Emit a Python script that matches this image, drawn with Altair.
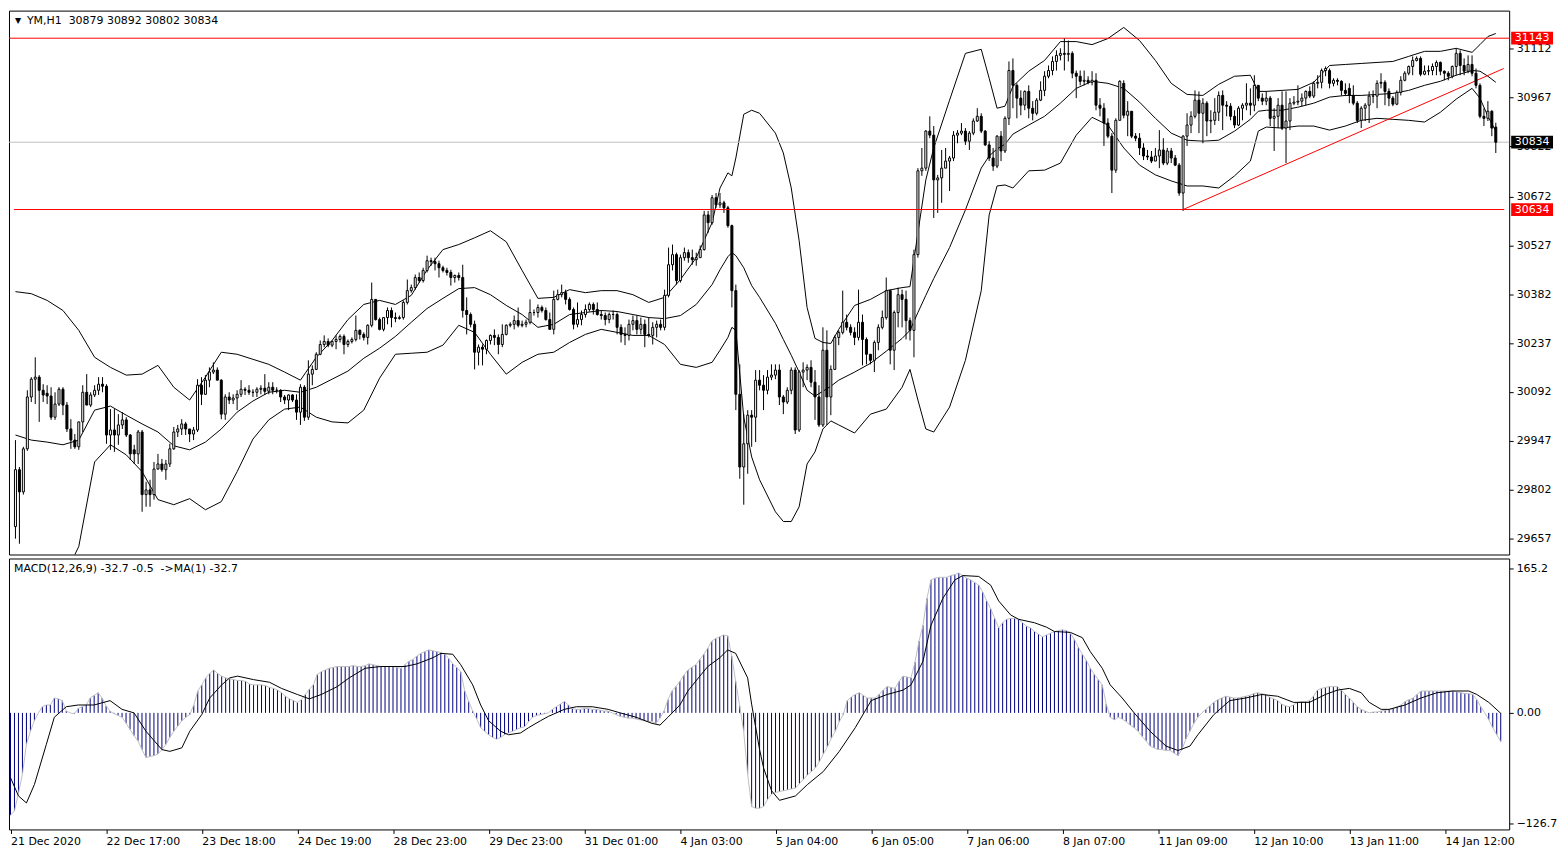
import altair as alt
import pandas as pd

# ---------------- price data (YM, H1) ----------------
OPEN = [
29692, 29861, 29795, 29923, 30077, 30130, 30136, 30097, 30088, 30080,
30017, 30056, 30100, 30053, 29982, 29949, 29929, 30003, 30091, 30053,
30083, 30097, 30115, 30109, 29964, 29979, 29964, 29994, 30009, 29964,
29920, 29908, 29973, 29787, 29801, 29787, 29863, 29878, 29861, 29878,
29923, 29973, 29982, 29997, 29982, 29967, 29979, 30112, 30085, 30127,
30151, 30157, 30127, 30026, 30077, 30068, 30074, 30085, 30100, 30097,
30091, 30091, 30100, 30103, 30094, 30106, 30097, 30097, 30077, 30068,
30083, 30068, 30032, 30106, 30017, 30145, 30159, 30204, 30233, 30242,
30231, 30242, 30248, 30257, 30233, 30242, 30248, 30275, 30263, 30254,
30290, 30367, 30307, 30278, 30313, 30334, 30313, 30310, 30313, 30358,
30393, 30402, 30432, 30423, 30453, 30482, 30479, 30473, 30461, 30453,
30447, 30432, 30438, 30432, 30334, 30322, 30293, 30210, 30225, 30219,
30245, 30260, 30254, 30233, 30263, 30290, 30293, 30304, 30290, 30293,
30299, 30328, 30328, 30343, 30334, 30307, 30278, 30367, 30381, 30387,
30367, 30337, 30293, 30307, 30322, 30337, 30352, 30337, 30322, 30319,
30307, 30322, 30322, 30284, 30263, 30260, 30293, 30304, 30278, 30293,
30263, 30260, 30284, 30293, 30284, 30379, 30470, 30500, 30423, 30491,
30506, 30491, 30485, 30491, 30515, 30618, 30595, 30669, 30648, 30654,
30639, 30586, 30393, 30085, 29869, 29938, 30023, 30017, 30127, 30112,
30097, 30136, 30142, 30157, 30077, 30062, 30097, 30157, 29979, 30151,
30157, 30165, 30121, 30077, 29994, 30216, 30077, 30159, 30254, 30269,
30299, 30284, 30269, 30254, 30299, 30248, 30204, 30186, 30239, 30284,
30313, 30393, 30216, 30328, 30381, 30367, 30304, 30275, 30500, 30749,
30757, 30867, 30855, 30722, 30728, 30757, 30778, 30787, 30855, 30861,
30867, 30837, 30861, 30897, 30911, 30867, 30826, 30787, 30763, 30852,
30808, 30905, 31047, 31003, 30965, 30944, 30985, 30935, 30920, 30959,
30988, 31030, 31047, 31074, 31092, 31098, 31095, 31098, 31039, 31030,
31015, 31018, 31012, 31018, 30944, 30935, 30891, 30852, 30751, 30899,
31009, 30914, 30926, 30852, 30846, 30817, 30793, 30790, 30778, 30793,
30811, 30772, 30808, 30787, 30766, 30683, 30852, 30885, 30911, 30959,
30920, 30950, 30897, 30899, 30923, 30973, 30944, 30941, 30911, 30885,
30935, 30944, 30950, 30944, 31003, 30965, 30956, 30965, 30905, 30911,
30944, 30876, 30897, 30950, 30953, 30956, 30965, 30985, 30971, 31009,
31012, 31047, 31047, 31009, 31018, 31015, 30988, 30994, 30973, 30950,
30899, 30935, 30944, 30971, 30971, 31009, 31012, 30985, 30965, 30947,
30982, 31018, 31039, 31059, 31077, 31083, 31036, 31045, 31047, 31059,
31071, 31045, 31039, 31030, 31059, 31098, 31062, 31045, 31065, 31039,
31003, 30911, 30905, 30926, 30879]

HIGH = [
29949, 29869, 29929, 30097, 30136, 30195, 30142, 30115, 30112, 30106,
30091, 30106, 30106, 30062, 30011, 29967, 30003, 30112, 30145, 30091,
30112, 30136, 30136, 30115, 30041, 30041, 30026, 30032, 30017, 29967,
29935, 29979, 29979, 29825, 29831, 29884, 29908, 29893, 29890, 29938,
29988, 29994, 30011, 30003, 29982, 29988, 30130, 30136, 30142, 30165,
30180, 30165, 30130, 30085, 30091, 30085, 30097, 30127, 30106, 30112,
30100, 30106, 30112, 30145, 30121, 30121, 30106, 30100, 30083, 30085,
30085, 30085, 30115, 30112, 30186, 30171, 30210, 30245, 30260, 30251,
30245, 30260, 30263, 30263, 30248, 30254, 30319, 30278, 30269, 30293,
30417, 30367, 30313, 30313, 30343, 30343, 30328, 30319, 30364, 30426,
30411, 30441, 30447, 30461, 30497, 30491, 30491, 30482, 30467, 30461,
30455, 30441, 30447, 30470, 30373, 30328, 30304, 30233, 30233, 30248,
30263, 30278, 30263, 30293, 30293, 30299, 30319, 30343, 30304, 30307,
30367, 30337, 30352, 30349, 30343, 30328, 30393, 30396, 30411, 30396,
30373, 30343, 30358, 30334, 30352, 30358, 30358, 30358, 30334, 30328,
30328, 30334, 30328, 30293, 30284, 30307, 30319, 30319, 30313, 30307,
30313, 30299, 30304, 30307, 30396, 30521, 30530, 30506, 30500, 30521,
30515, 30515, 30506, 30527, 30630, 30630, 30677, 30683, 30683, 30660,
30645, 30589, 30411, 30174, 30026, 30038, 30038, 30157, 30157, 30142,
30157, 30174, 30174, 30174, 30083, 30106, 30165, 30165, 30157, 30180,
30174, 30186, 30157, 30112, 30284, 30275, 30171, 30260, 30275, 30393,
30322, 30293, 30284, 30396, 30322, 30254, 30204, 30245, 30293, 30334,
30432, 30396, 30334, 30402, 30396, 30393, 30313, 30515, 30757, 30817,
30870, 30911, 30882, 30737, 30811, 30817, 30793, 30867, 30870, 30891,
30876, 30867, 30905, 30935, 30920, 30870, 30837, 30817, 30855, 30867,
30911, 31074, 31083, 31009, 30988, 30988, 31003, 30956, 30965, 31015,
31045, 31062, 31089, 31107, 31113, 31142, 31136, 31104, 31047, 31047,
31047, 31030, 31045, 31039, 30965, 30950, 30905, 30861, 30905, 31018,
31018, 30956, 30926, 30861, 30861, 30831, 30811, 30808, 30817, 30870,
30846, 30817, 30817, 30796, 30772, 30855, 30920, 30926, 30988, 30985,
30965, 30956, 30929, 30965, 30985, 30988, 30956, 30950, 30929, 30941,
30950, 31009, 30994, 31033, 31003, 30979, 30985, 30971, 30935, 30965,
30985, 30985, 30965, 30971, 31003, 30979, 30988, 31000, 31015, 31033,
31053, 31059, 31053, 31024, 31024, 31018, 31009, 31009, 31003, 30956,
30941, 30950, 30985, 30988, 31018, 31039, 31018, 30994, 30971, 30988,
31030, 31045, 31062, 31089, 31089, 31089, 31062, 31062, 31068, 31077,
31074, 31047, 31045, 31062, 31113, 31107, 31083, 31092, 31092, 31053,
31009, 30935, 30956, 30929, 30892]

LOW = [
29656, 29641, 29787, 29917, 30062, 30056, 30003, 30062, 30056, 30009,
30009, 30050, 30023, 29973, 29923, 29923, 29920, 29973, 30053, 30047,
30077, 30083, 30091, 29938, 29920, 29914, 29935, 29982, 29958, 29890,
29878, 29878, 29736, 29751, 29751, 29772, 29861, 29855, 29831, 29869,
29920, 29958, 29964, 29964, 29943, 29949, 29973, 30053, 30083, 30106,
30145, 30127, 30011, 30009, 30056, 30056, 30038, 30077, 30083, 30083,
30077, 30077, 30085, 30083, 30085, 30085, 30088, 30062, 30056, 30038,
30062, 30009, 29994, 30006, 30009, 30112, 30157, 30201, 30225, 30225,
30225, 30219, 30239, 30204, 30225, 30236, 30242, 30248, 30245, 30233,
30284, 30304, 30275, 30272, 30293, 30284, 30299, 30307, 30307, 30352,
30387, 30396, 30417, 30417, 30447, 30467, 30453, 30432, 30447, 30438,
30408, 30417, 30423, 30313, 30263, 30284, 30159, 30171, 30171, 30204,
30233, 30231, 30204, 30225, 30260, 30284, 30278, 30284, 30284, 30284,
30293, 30319, 30313, 30328, 30304, 30278, 30263, 30364, 30373, 30352,
30334, 30278, 30284, 30290, 30313, 30331, 30322, 30319, 30307, 30290,
30296, 30307, 30263, 30239, 30231, 30245, 30275, 30263, 30263, 30225,
30254, 30233, 30254, 30275, 30275, 30373, 30453, 30411, 30417, 30482,
30476, 30470, 30467, 30491, 30512, 30565, 30589, 30639, 30639, 30624,
30580, 30343, 30038, 29834, 29757, 29849, 29929, 29943, 30097, 30038,
30085, 30127, 30130, 30053, 30026, 30056, 30085, 29967, 29973, 30106,
30127, 30106, 30009, 29988, 29988, 29994, 30023, 30157, 30231, 30263,
30275, 30260, 30231, 30245, 30171, 30174, 30174, 30151, 30216, 30278,
30307, 30174, 30157, 30284, 30284, 30248, 30245, 30195, 30491, 30734,
30749, 30846, 30609, 30624, 30654, 30757, 30689, 30778, 30831, 30855,
30826, 30811, 30855, 30894, 30861, 30823, 30778, 30749, 30757, 30778,
30802, 30885, 30935, 30905, 30914, 30929, 30905, 30899, 30914, 30956,
30971, 31024, 31033, 31047, 31077, 31047, 31074, 31024, 30965, 31003,
31003, 31006, 31003, 30929, 30911, 30823, 30846, 30683, 30743, 30899,
30905, 30852, 30846, 30837, 30796, 30781, 30781, 30772, 30778, 30757,
30766, 30766, 30772, 30763, 30675, 30630, 30823, 30861, 30905, 30861,
30831, 30852, 30861, 30885, 30897, 30870, 30911, 30899, 30876, 30882,
30899, 30929, 30914, 30926, 30956, 30944, 30944, 30882, 30808, 30876,
30870, 30772, 30870, 30944, 30944, 30941, 30944, 30965, 30965, 30994,
30994, 31030, 30994, 31000, 31003, 30973, 30971, 30950, 30944, 30891,
30876, 30897, 30891, 30950, 30935, 30994, 30944, 30941, 30941, 30944,
30973, 31015, 31033, 31033, 31074, 31030, 31033, 31033, 31033, 31033,
31033, 31018, 31018, 31024, 31033, 31033, 31033, 31039, 31030, 30994,
30905, 30882, 30897, 30852, 30802]

CLOSE = [
29861, 29795, 29923, 30077, 30130, 30136, 30097, 30083, 30080, 30017,
30056, 30100, 30053, 29982, 29949, 29929, 30003, 30091, 30053, 30083,
30097, 30115, 30109, 29964, 29979, 29964, 29994, 30009, 29964, 29908,
29908, 29973, 29787, 29801, 29787, 29863, 29878, 29861, 29878, 29923,
29973, 29982, 29997, 29982, 29967, 29979, 30112, 30085, 30127, 30151,
30157, 30127, 30026, 30077, 30068, 30074, 30085, 30100, 30097, 30091,
30091, 30100, 30103, 30094, 30106, 30097, 30097, 30077, 30068, 30083,
30068, 30032, 30106, 30017, 30145, 30159, 30204, 30233, 30242, 30231,
30242, 30248, 30257, 30233, 30242, 30248, 30275, 30263, 30254, 30290,
30367, 30307, 30278, 30313, 30334, 30313, 30310, 30313, 30358, 30393,
30402, 30432, 30423, 30453, 30482, 30479, 30473, 30461, 30453, 30447,
30432, 30438, 30432, 30334, 30322, 30293, 30210, 30225, 30219, 30245,
30260, 30254, 30233, 30263, 30290, 30293, 30304, 30290, 30293, 30299,
30328, 30328, 30343, 30334, 30307, 30278, 30367, 30381, 30387, 30367,
30337, 30293, 30307, 30322, 30337, 30352, 30337, 30322, 30319, 30307,
30322, 30322, 30284, 30263, 30260, 30293, 30304, 30278, 30293, 30263,
30260, 30284, 30293, 30284, 30379, 30470, 30500, 30423, 30491, 30506,
30491, 30485, 30491, 30515, 30618, 30595, 30669, 30648, 30654, 30639,
30586, 30393, 30085, 29869, 29938, 30023, 30017, 30127, 30112, 30097,
30136, 30142, 30157, 30077, 30062, 30097, 30157, 29979, 30151, 30157,
30165, 30121, 30077, 29994, 30216, 30077, 30159, 30254, 30269, 30299,
30284, 30269, 30254, 30299, 30248, 30204, 30186, 30239, 30284, 30313,
30393, 30216, 30328, 30381, 30367, 30304, 30275, 30500, 30749, 30757,
30867, 30855, 30722, 30728, 30757, 30778, 30787, 30855, 30861, 30867,
30837, 30861, 30897, 30911, 30867, 30826, 30787, 30763, 30852, 30808,
30905, 31047, 31003, 30965, 30944, 30985, 30935, 30920, 30959, 30988,
31030, 31047, 31074, 31092, 31098, 31095, 31098, 31039, 31030, 31015,
31018, 31012, 31018, 30944, 30935, 30891, 30852, 30751, 30899, 31015,
30914, 30926, 30852, 30846, 30817, 30793, 30790, 30778, 30793, 30811,
30772, 30808, 30787, 30766, 30683, 30852, 30885, 30911, 30959, 30920,
30950, 30897, 30899, 30923, 30973, 30944, 30941, 30911, 30885, 30935,
30944, 30950, 30944, 31003, 30965, 30956, 30965, 30905, 30911, 30944,
30876, 30897, 30950, 30953, 30956, 30965, 30985, 30971, 31009, 31012,
31047, 31053, 31009, 31018, 31015, 30988, 30979, 30973, 30950, 30899,
30935, 30944, 30971, 30971, 31009, 31012, 30985, 30965, 30947, 30982,
31018, 31039, 31059, 31077, 31083, 31036, 31045, 31047, 31059, 31071,
31045, 31039, 31030, 31059, 31098, 31062, 31045, 31065, 31039, 31003,
30911, 30905, 30926, 30876, 30834]

# ---------------- Bollinger bands (read at these bars) ----------------
BB_IDX = [0, 4, 8, 12, 16, 20, 24, 28, 32, 36, 40, 44, 48, 52, 56, 60, 64, 68, 72, 76,
          80, 84, 88, 92, 96, 100, 104, 108, 112, 116, 120, 124, 128, 132, 136, 140, 144, 148, 152, 156,
          160, 164, 168, 172, 176, 178, 180, 181, 182, 184, 186, 188,
          192, 194, 196, 198, 200, 202, 204, 206, 208, 212, 216, 220, 224,
          226, 228, 230, 232, 236, 240, 244, 246, 248, 250, 252,
          256, 260, 264, 268, 272, 276, 280, 284, 288, 292, 296, 300, 304, 308, 312, 314, 316,
          320, 324, 328, 332, 336, 340, 344, 348, 352, 356, 360, 364, 368, 370, 372, 374]
BB_UP = [30390, 30384, 30364, 30334, 30275, 30195, 30165, 30142, 30145, 30171, 30106, 30068, 30136, 30210, 30204, 30189, 30174, 30151, 30127, 30195,
         30245, 30307, 30352, 30364, 30352, 30379, 30455, 30515, 30530, 30550, 30571, 30538, 30453, 30370, 30373, 30396, 30387, 30393, 30393, 30381,
         30358, 30373, 30426, 30491, 30595, 30698, 30743, 30734, 30787, 30917, 30929, 30920,
         30861, 30802, 30698, 30541, 30343, 30251, 30239, 30236, 30278, 30349, 30367, 30393, 30402,
         30405, 30565, 30722, 30817, 30959, 31098, 31110, 31024, 30935, 30941, 31000,
         31045, 31077, 31133, 31133, 31124, 31142, 31175, 31136, 31077, 31009, 30976, 30973, 31006, 31030, 31033, 30985, 30985,
         30988, 30991, 31012, 31062, 31065, 31068, 31071, 31074, 31089, 31104, 31104, 31113, 31101, 31124, 31148, 31157]
BB_MID = [29964, 29949, 29943, 29935, 29949, 30038, 30050, 30023, 29997, 29973, 29932, 29920, 29943, 29982, 30032, 30065, 30091, 30097, 30091, 30106,
          30130, 30154, 30192, 30222, 30257, 30299, 30340, 30370, 30399, 30402, 30381, 30349, 30322, 30284, 30293, 30322, 30328, 30334, 30331, 30322,
          30313, 30310, 30319, 30352, 30411, 30455, 30494, 30506, 30497, 30461, 30408, 30373,
          30296, 30248, 30201, 30151, 30097, 30080, 30094, 30109, 30127, 30151, 30177, 30213, 30251,
          30275, 30328, 30379, 30429, 30521, 30633, 30757, 30793, 30814, 30828, 30858,
          30885, 30911, 30950, 30994, 31015, 31009, 30994, 30953, 30905, 30861, 30840, 30837, 30840, 30867, 30902, 30926, 30929,
          30929, 30938, 30950, 30968, 30973, 30973, 30976, 30979, 30988, 31003, 31015, 31033, 31047, 31045, 31030, 31012]
BB_LO = [29538, 29514, 29523, 29535, 29633, 29884, 29935, 29905, 29855, 29772, 29757, 29775, 29742, 29766, 29855, 29952, 30009, 30041, 30047, 30017,
         30003, 30000, 30038, 30133, 30204, 30207, 30210, 30231, 30290, 30269, 30204, 30145, 30180, 30204, 30210, 30239, 30263, 30278, 30269, 30260,
         30260, 30233, 30174, 30165, 30180, 30216, 30254, 30284, 30275, 30017, 29899, 29831,
         29736, 29707, 29707, 29751, 29878, 29914, 29982, 30006, 29994, 29970, 30026, 30041, 30106,
         30159, 30068, 29982, 29973, 30047, 30186, 30393, 30618, 30704, 30707, 30698,
         30749, 30751, 30772, 30855, 30908, 30885, 30817, 30766, 30737, 30719, 30704, 30704, 30698, 30734, 30778, 30867, 30879,
         30876, 30882, 30882, 30870, 30882, 30899, 30905, 30902, 30899, 30894, 30923, 30962, 30994, 30965, 30911, 30867]

# ---------------- MACD(12,26,9) ----------------
MACD = [
-117, -112, -92, -70, -36, -21, -9, 0, 7, 9,
9, 17, 16, 14, 2, 0, -1, 5, 7, 9,
17, 20, 23, 17, 8, 2, -1, -3, -5, -12,
-19, -26, -32, -42, -51, -50, -49, -47, -42, -36,
-28, -21, -15, -9, -5, -2, 9, 25, 32, 40,
45, 49, 45, 42, 40, 39, 38, 37, 37, 36,
33, 32, 32, 32, 31, 29, 28, 26, 23, 19,
16, 14, 12, 15, 21, 27, 32, 44, 47, 49,
51, 52, 53, 53, 53, 53, 54, 53, 53, 54,
56, 55, 54, 53, 53, 53, 53, 52, 51, 55,
59, 61, 65, 68, 70, 72, 71, 70, 69, 67,
62, 56, 52, 47, 25, 13, 2, -7, -17, -21,
-25, -28, -30, -28, -25, -23, -21, -19, -17, -16,
-10, -5, -3, -2, -1, 0, 4, 7, 10, 13,
9, 5, 4, 4, 5, 5, 4, 4, 3, 2,
2, 0, -2, -4, -5, -6, -6, -7, -8, -9,
-10, -10, -12, -6, 2, 15, 25, 30, 36, 43,
49, 52, 55, 61, 67, 74, 82, 85, 87, 89,
88, 65, 36, 8, -21, -70, -107, -109, -109, -107,
-99, -93, -91, -90, -89, -88, -87, -86, -81, -76,
-71, -67, -63, -56, -47, -39, -29, -21, -10, -2,
14, 18, 21, 23, 20, 17, 17, 17, 21, 26,
30, 29, 28, 36, 42, 41, 40, 58, 82, 100,
131, 152, 154, 155, 155, 155, 157, 158, 160, 157,
154, 152, 149, 146, 138, 128, 119, 108, 97, 103,
107, 108, 108, 107, 103, 99, 97, 93, 90, 87,
89, 91, 93, 94, 95, 94, 91, 84, 75, 67,
60, 51, 44, 38, 32, 10, -5, -8, -5, -7,
-10, -14, -17, -21, -27, -32, -38, -40, -42, -42,
-43, -43, -46, -49, -42, -30, -21, -12, -5, 0,
4, 8, 12, 15, 17, 19, 18, 17, 17, 18,
19, 20, 22, 23, 22, 21, 18, 16, 14, 10,
8, 7, 9, 12, 13, 13, 14, 19, 26, 28,
29, 30, 30, 30, 26, 21, 17, 12, 7, 4,
2, 0, 1, 1, 2, 3, 4, 5, 7, 9,
13, 15, 17, 21, 25, 25, 25, 25, 25, 25,
25, 25, 25, 24, 23, 22, 22, 21, 15, 7,
0, -8, -17, -25, -32.7]

SIG_IDX = [0, 2, 4, 6, 9, 11, 14, 17, 21, 25, 28, 31, 34, 38, 40, 43, 45, 48, 50, 53,
           55, 57, 61, 65, 68, 72, 75, 78, 82, 85, 89, 93, 99, 102, 106, 108, 111, 113, 116, 118,
           120, 123, 125, 128, 130, 133, 135, 139, 142, 146, 150, 153, 157, 161, 163, 165, 168, 170, 173, 175,
           178, 180, 182, 185, 186, 187, 188, 189, 191, 193, 197, 200, 204, 208, 212, 216, 220, 224, 226, 229,
           231, 234, 237, 239, 243, 246, 248, 251, 253, 257, 260, 262, 266, 269, 271, 274, 276, 279, 282, 286,
           290, 293, 296, 298, 302, 306, 310, 314, 318, 322, 326, 330, 333, 336, 339, 341, 344, 346, 350, 354,
           358, 362, 366, 368, 371, 374]
SIG_VAL = [-74, -95, -103, -82, -36, -5, 7, 9, 9, 14, 4, 0, -21, -42, -44, -40, -21, -2, 17, 32,
           40, 42, 38, 35, 28, 21, 16, 21, 30, 40, 51, 53, 53, 56, 63, 68, 67, 55, 32, 9,
           -9, -21, -25, -23, -17, -9, -4, 4, 7, 7, 4, 0, -5, -12, -14, -5, 9, 25, 42, 53,
           63, 72, 68, 40, 10, -16, -42, -63, -89, -100, -95, -82, -67, -44, -17, 14, 21, 26, 32, 59,
           100, 131, 152, 157, 156, 146, 128, 112, 107, 103, 98, 93, 92, 86, 70, 51, 32, 17, 0, -21,
           -38, -43, -38, -25, -2, 14, 17, 21, 19, 12, 12, 21, 26, 28, 23, 12, 4, 4, 9, 17,
           23, 25, 25, 21, 12, -0.5]

# ---------------- levels / annotations ----------------
LEVEL_HIGH = [31143]
LEVEL_LOW = [30634]
CURRENT = [30834]
TREND_IDX = [295, 376]
TREND_P = [30634, 31053]
Y_TICKS = [29657, 29802, 29947, 30092, 30237, 30382, 30527, 30672, 30822, 30967, 31112]
BOX_P = [31143, 30634, 30834]
BOX_COL = ["#FF0000", "#FF0000", "#000000"]
X_TICK_IDX = [0, 24, 48, 72, 96, 120, 144, 168, 192, 216, 240, 264, 288, 312, 336, 360]
X_TICK_LAB = ["21 Dec 2020", "22 Dec 17:00", "23 Dec 18:00", "24 Dec 19:00", "28 Dec 23:00",
              "29 Dec 23:00", "31 Dec 01:00", "4 Jan 03:00", "5 Jan 04:00", "6 Jan 05:00",
              "7 Jan 06:00", "8 Jan 07:00", "11 Jan 09:00", "12 Jan 10:00", "13 Jan 11:00",
              "14 Jan 12:00"]
NB = "\u00A0"
HEADER = "YM,H1" + NB + NB + "30879 30892 30802 30834"
MACD_LABEL = "MACD(12,26,9) -32.7 -0.5" + NB + NB + "->MA(1) -32.7"
MACD_TICKS = [165.2, 0, -126.7]

FONT = "DejaVu Sans"
FS = 11
W, H1, H2 = 1506, 546, 272
XDOM = [-0.375, 376.125]

n = len(CLOSE)
candles = pd.DataFrame({"i": list(range(n)), "o": OPEN[:n], "h": HIGH[:n], "l": LOW[:n], "c": CLOSE[:n]})
m = min(len(BB_IDX), len(BB_UP), len(BB_MID), len(BB_LO))
bands = pd.DataFrame({"i": BB_IDX[:m], "up": BB_UP[:m], "mid": BB_MID[:m], "lo": BB_LO[:m]})
macd = pd.DataFrame({"i": list(range(len(MACD))), "v": MACD, "z": [0] * len(MACD)})
k = min(len(SIG_IDX), len(SIG_VAL))
sig = pd.DataFrame({"i": SIG_IDX[:k], "s": SIG_VAL[:k]})

xs = alt.Scale(domain=XDOM, nice=False, zero=False)
ys = alt.Scale(domain=[29609, 31225], nice=False, zero=False)
X0 = alt.X("i:Q", scale=xs, axis=None)

yaxis = alt.Axis(orient="right", values=Y_TICKS, format="d", title=None, grid=False,
                 domain=False, tickSize=4, labelPadding=3, labelFont=FONT, labelFontSize=FS,
                 labelColor="black", tickColor="black")

wicks = alt.Chart(candles).mark_rule(color="black", strokeWidth=1).encode(
    x=X0, y=alt.Y("l:Q", scale=ys, axis=yaxis), y2="h:Q")
bodies = alt.Chart(candles).mark_bar(size=2, stroke="black", strokeWidth=1).encode(
    x=X0, y=alt.Y("o:Q", scale=ys), y2="c:Q",
    fill=alt.condition("datum.c >= datum.o", alt.value("white"), alt.value("black")))

bb = alt.Chart(bands)
up_l = bb.mark_line(color="black", strokeWidth=1, clip=True).encode(x=X0, y=alt.Y("up:Q", scale=ys))
mid_l = bb.mark_line(color="black", strokeWidth=1, clip=True).encode(x=X0, y=alt.Y("mid:Q", scale=ys))
lo_l = bb.mark_line(color="black", strokeWidth=1, clip=True).encode(x=X0, y=alt.Y("lo:Q", scale=ys))

lev_hi = alt.Chart(pd.DataFrame({"lv": LEVEL_HIGH})).mark_rule(color="#FF0000", strokeWidth=1).encode(
    y=alt.Y("lv:Q", scale=ys), x=alt.value(0), x2=alt.value(W))
lev_lo_df = pd.DataFrame({"i": [XDOM[0], XDOM[1]], "lw": LEVEL_LOW * 2})
lev_lo = alt.Chart(lev_lo_df).mark_line(color="#FF0000", strokeWidth=1, clip=True).encode(
    x=X0, y=alt.Y("lw:Q", scale=ys))
cur = alt.Chart(pd.DataFrame({"cp": CURRENT})).mark_rule(color="#C0C0C0", strokeWidth=1).encode(
    y=alt.Y("cp:Q", scale=ys), x=alt.value(0), x2=alt.value(W))
trend = alt.Chart(pd.DataFrame({"i": TREND_IDX, "tp": TREND_P})).mark_line(
    color="#FF0000", strokeWidth=1, clip=True).encode(x=X0, y=alt.Y("tp:Q", scale=ys))

boxes_df = pd.DataFrame({"bp": BOX_P, "col": BOX_COL})
boxes_df["top"] = boxes_df["bp"] + 19
boxes_df["bot"] = boxes_df["bp"] - 19
boxes = alt.Chart(boxes_df).mark_rect().encode(
    y=alt.Y("top:Q", scale=ys), y2="bot:Q", x=alt.value(W + 2), x2=alt.value(W + 44),
    fill=alt.Fill("col:N", scale=None))
box_txt = alt.Chart(boxes_df).mark_text(color="white", font=FONT, fontSize=FS, align="center",
                                        baseline="middle").encode(
    y=alt.Y("bp:Q", scale=ys), x=alt.value(W + 23), text=alt.Text("bp:Q", format="d"))

hdr = alt.Chart(pd.DataFrame({"t": [HEADER]})).mark_text(
    align="left", baseline="middle", font=FONT, fontSize=FS, color="black").encode(
    text="t:N", x=alt.value(18), y=alt.value(10))
tri = alt.Chart(pd.DataFrame({"t": ["\u25BC"]})).mark_text(
    align="center", baseline="middle", font=FONT, fontSize=8, color="black").encode(
    text="t:N", x=alt.value(9), y=alt.value(10))

main = alt.layer(up_l, mid_l, lo_l, cur, lev_hi, trend, wicks, bodies, boxes, box_txt, hdr, tri, lev_lo).properties(
    width=W, height=H1)

label_expr = " : ".join(f"datum.value == {i} ? '{t}'" for i, t in zip(X_TICK_IDX, X_TICK_LAB)) + " : ''"
xaxis = alt.Axis(values=X_TICK_IDX, labelExpr=label_expr, title=None, grid=False, domain=False,
                 tickSize=4, labelAlign="left", labelPadding=2, labelFlush=False, labelOverlap=False,
                 labelBound=False, labelFont=FONT, labelFontSize=FS, labelColor="black", tickColor="black")
XM = alt.X("i:Q", scale=xs, axis=xaxis)
yms = alt.Scale(domain=[-133.3, 176.5], nice=False, zero=False)
ymaxis = alt.Axis(orient="right", values=MACD_TICKS, title=None, grid=False, domain=False, tickSize=4,
                  labelPadding=3, labelFont=FONT, labelFontSize=FS, labelColor="black", tickColor="black",
                  labelExpr="datum.value == 0 ? '0.00' : format(datum.value, '.1f')")

hist = alt.Chart(macd).mark_rule(color="#000080", strokeWidth=1).encode(
    x=XM, y=alt.Y("v:Q", scale=yms, axis=ymaxis), y2="z:Q")
ma1 = alt.Chart(macd).mark_line(color="#C0C0C0", strokeWidth=1).encode(
    x=alt.X("i:Q", scale=xs), y=alt.Y("v:Q", scale=yms))
sigl = alt.Chart(sig).mark_line(color="black", strokeWidth=1).encode(
    x=alt.X("i:Q", scale=xs), y=alt.Y("s:Q", scale=yms))
mlab = alt.Chart(pd.DataFrame({"t": [MACD_LABEL]})).mark_text(
    align="left", baseline="middle", font=FONT, fontSize=FS, color="black").encode(
    text="t:N", x=alt.value(5), y=alt.value(11))

lower = alt.layer(hist, ma1, sigl, mlab).properties(width=W, height=H2)

chart = alt.vconcat(main, lower, spacing=2).properties(padding=0, background="white").configure_view(
    stroke="black", strokeWidth=1)

chart.save("out.html", embed_options={"renderer": "svg", "actions": False})
